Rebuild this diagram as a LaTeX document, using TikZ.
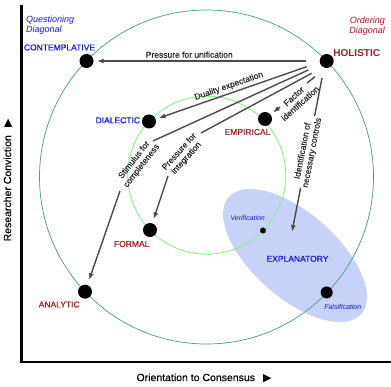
\documentclass[tikz,border=0pt]{standalone}
\usepackage{fontspec}
\setmainfont{Liberation Sans}
\newfontfamily\symfont{DejaVu Sans}
\newfontfamily\medfont[FakeBold=0.5]{Liberation Sans}
\newfontfamily\lblfont[FakeBold=0.25]{Liberation Sans}
\usetikzlibrary{arrows.meta}
\definecolor{qblue}{RGB}{25,25,225}
\definecolor{ored}{RGB}{160,30,35}
\definecolor{bigc}{RGB}{70,160,120}
\definecolor{smallc}{RGB}{130,240,130}
\definecolor{ellc}{RGB}{200,210,248}
\definecolor{lineg}{RGB}{75,75,75}
\begin{document}
\begin{tikzpicture}[x=1pt,y=-1pt,
 dot/.style={circle,fill=black,inner sep=0pt,minimum size=14pt},
 conn/.style={draw=lineg,line width=1.4pt,-{Latex[length=7pt,width=5pt]},shorten >=3pt},
 seg/.style={draw=lineg,line width=1.4pt},
 lbl/.style={font=\lblfont\fontsize{8.5}{9.5}\selectfont,text=black!85,align=center,inner sep=1pt},
 catb/.style={font=\medfont\fontsize{8.5}{10}\selectfont,text=qblue,inner sep=0pt},
 catr/.style={font=\medfont\fontsize{8.5}{10}\selectfont,text=ored,inner sep=0pt},
 smallit/.style={font=\itshape\fontsize{7}{8}\selectfont,text=qblue,inner sep=0pt},
 diag/.style={font=\itshape\fontsize{9}{10}\selectfont,inner sep=0pt},
 axlbl/.style={font=\lblfont\fontsize{10.5}{12}\selectfont,text=black,inner sep=0pt}
]
\useasboundingbox (0,0) rectangle (391,387);
\fill[white] (0,0) rectangle (391,387);

% ellipse (explanatory region)
\fill[ellc, shift={(295,255.5)}, rotate=-41.4] (0,0) ellipse [x radius=88.4, y radius=42.3];

% circles
\draw[bigc, line width=0.7pt] (206.5,177) circle [radius=167];
\draw[smallc, line width=0.8pt] (206.75,175.2) circle [radius=79];

% axes
\draw[line width=2.2pt] (21.5,5) -- (21.5,362) -- (391,362);

% dots
\node[dot] (C) at (86.5,61) {};
\node[dot] (H) at (326.7,61) {};
\node[dot] (D) at (149,121.5) {};
\node[dot] (E) at (265,119) {};
\node[dot] (F) at (150,230) {};
\node[dot] (A) at (85,291.7) {};
\node[dot, minimum size=6pt] (V) at (263,230.5) {};
\node[dot, minimum size=12pt] (Fa) at (326.7,292.5) {};

% category labels
\node[catb] (tC) at (59.5,47.5) {CONTEMPLATIVE};
\node[catr, font=\bfseries\fontsize{10}{12}\selectfont] (tH) at (356.7,53) {HOLISTIC};
\node[catb] (tD) at (117.8,120.3) {DIALECTIC};
\node[catr] (tE) at (247.5,132) {EMPIRICAL};
\node[catr] (tF) at (131.7,244) {FORMAL};
\node[catr] (tA) at (59.2,304.5) {ANALYTIC};
\node[catb] (tX) at (297.5,258.8) {EXPLANATORY};
\node[smallit] (tV) at (247.7,218.3) {Verification};
\node[smallit] (tFa) at (342.8,307.3) {Falsification};

% diagonal labels
\node[diag, text=qblue, anchor=north west, align=left] (qd) at (26,16) {Questioning\\Diagonal};
\node[diag, text=ored, anchor=north east, align=right] (od) at (385,17) {Ordering\\Diagonal};

% axis labels
\node[axlbl, rotate=90] (ya) at (8,180) {Researcher Conviction\hspace{8pt}{\symfont\fontsize{11}{12}\selectfont ▶}};
\node[axlbl] (xa) at (204,378) {Orientation to Consensus\hspace{8pt}{\symfont\fontsize{11}{12}\selectfont ▶}};

% connectors
\coordinate (h1) at (306,61);
\draw[conn] (h1) -- node[lbl, above=1.5pt, pos=0.55] (lu) {Pressure for unification} (C);

\coordinate (h2) at (306.7,66.7);
\draw[conn] (h2) -- node[lbl, above=1.5pt, sloped, pos=0.5] (ld) {Duality expectation} (D);

\coordinate (h3) at (308.3,70);
\coordinate (s3a) at (153,141);
\coordinate (s3b) at (120,191);
\node[lbl, rotate=52] (ls) at (138,163) {Stimulus for\\completeness};
\draw[seg] (h3) -- (s3a);
\draw[conn, shorten >=5pt] (s3b) -- (A);

\coordinate (h4) at (311.7,73.3);
\coordinate (s4a) at (201,133);
\coordinate (s4b) at (168,176);
\node[lbl, rotate=48] (lp) at (183,155) {Pressure for\\integration};
\draw[seg] (h4) -- (s4a);
\draw[conn, shorten >=4pt] (s4b) -- (F);

\coordinate (h5) at (315,76.7);
\coordinate (s5a) at (307,83);
\coordinate (s5b) at (280,107);
\node[lbl, rotate=42] (lf) at (297,100) {Factor\\identification};
\draw[seg] (h5) -- (s5a);
\draw[conn, shorten >=3pt] (s5b) -- (E);

\coordinate (h6) at (322,78);
\coordinate (x6) at (292,232);
\draw[conn, shorten >=0pt] (h6) -- node[lbl, sloped, fill=white, pos=0.48] (li) {Identification of\\necessary controls} (x6);
\end{tikzpicture}
\end{document}
